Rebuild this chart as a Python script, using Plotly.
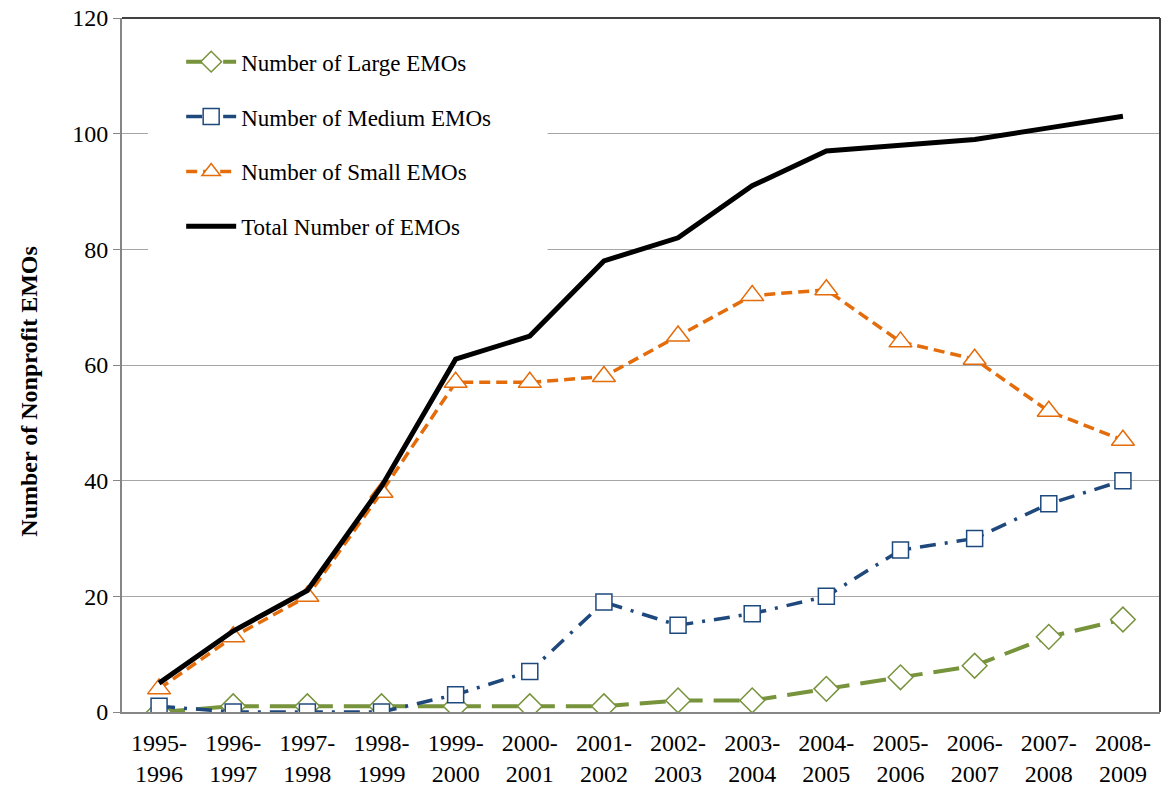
import plotly.graph_objects as go

categories = ["1995-<br>1996", "1996-<br>1997", "1997-<br>1998", "1998-<br>1999", "1999-<br>2000",
              "2000-<br>2001", "2001-<br>2002", "2002-<br>2003", "2003-<br>2004", "2004-<br>2005",
              "2005-<br>2006", "2006-<br>2007", "2007-<br>2008", "2008-<br>2009"]
large = [0, 1, 1, 1, 1, 1, 1, 2, 2, 4, 6, 8, 13, 16]
medium = [1, 0, 0, 0, 3, 7, 19, 15, 17, 20, 28, 30, 36, 40]
small = [4, 13, 20, 38, 57, 57, 58, 65, 72, 73, 64, 61, 52, 47]
total = [5, 14, 21, 39, 61, 65, 78, 82, 91, 97, 98, 99, 101, 103]

FONT = "Liberation Serif, Times New Roman, serif"

fig = go.Figure()
fig.add_trace(go.Scatter(
    x=categories, y=large, name="Number of Large EMOs", mode="lines+markers", legendgroup="a",
    line=dict(color="#77933C", width=4, dash="26px,11px"),
    marker=dict(symbol="diamond", size=19, color="white", line=dict(color="#77933C", width=1.5))))
fig.add_trace(go.Scatter(
    x=categories, y=medium, name="Number of Medium EMOs", mode="lines+markers", legendgroup="b",
    line=dict(color="#1F497D", width=3.5, dash="16px,9px,3px,9px"),
    marker=dict(symbol="square", size=16, color="white", line=dict(color="#1F497D", width=1.5))))
fig.add_trace(go.Scatter(
    x=categories, y=small, name="Number of Small EMOs", mode="lines+markers", legendgroup="c",
    line=dict(color="#E46C0A", width=3.5, dash="11px,6px"),
    marker=dict(symbol="triangle-up", size=20, color="white", line=dict(color="#E46C0A", width=1.5))))
fig.add_trace(go.Scatter(
    x=categories, y=total, name="Total Number of EMOs", mode="lines", legendgroup="d",
    line=dict(color="black", width=5)))

fig.update_layout(
    width=1162, height=788,
    margin=dict(l=122, r=2, t=18, b=76),
    paper_bgcolor="white", plot_bgcolor="white",
    font=dict(family=FONT, size=24, color="black"),
    showlegend=True,
    legend=dict(x=0.057, y=0.968, xanchor="left", yanchor="top", bgcolor="white",
                font=dict(family=FONT, size=23), tracegroupgap=22, itemwidth=50,
                borderwidth=0),
    xaxis=dict(range=[-0.5, 13.5], showgrid=False, showline=True, linecolor="#868686", linewidth=2,
               ticks="", tickfont=dict(size=24), ticklabelstandoff=8, fixedrange=True),
    yaxis=dict(range=[0, 120], dtick=20, showgrid=True, gridcolor="#A6A6A6", gridwidth=1,
               showline=True, linecolor="#868686", linewidth=2, ticks="outside", ticklen=7,
               tickcolor="#868686", tickfont=dict(size=24), zeroline=False),
    annotations=[dict(text="<b>Number of Nonprofit EMOs</b>", textangle=-90, showarrow=False,
                      xref="paper", yref="paper", x=-0.09, y=0.461, xanchor="center", yanchor="middle",
                      font=dict(family=FONT, size=24))],
    shapes=[
        dict(type="rect", xref="paper", yref="paper", x0=0.025, x1=0.41, y0=0.657, y1=0.97,
             fillcolor="white", line=dict(width=0), layer="above"),
        dict(type="line", xref="paper", yref="paper", x0=0, x1=1, y0=1, y1=1,
             line=dict(color="#404040", width=2)),
        dict(type="line", xref="paper", yref="paper", x0=1, x1=1, y0=0, y1=1,
             line=dict(color="#404040", width=2)),
    ],
)

fig.write_html("out.html", config={"displayModeBar": False},
               post_script="document.body.style.margin='0';document.body.style.overflow='hidden';")
